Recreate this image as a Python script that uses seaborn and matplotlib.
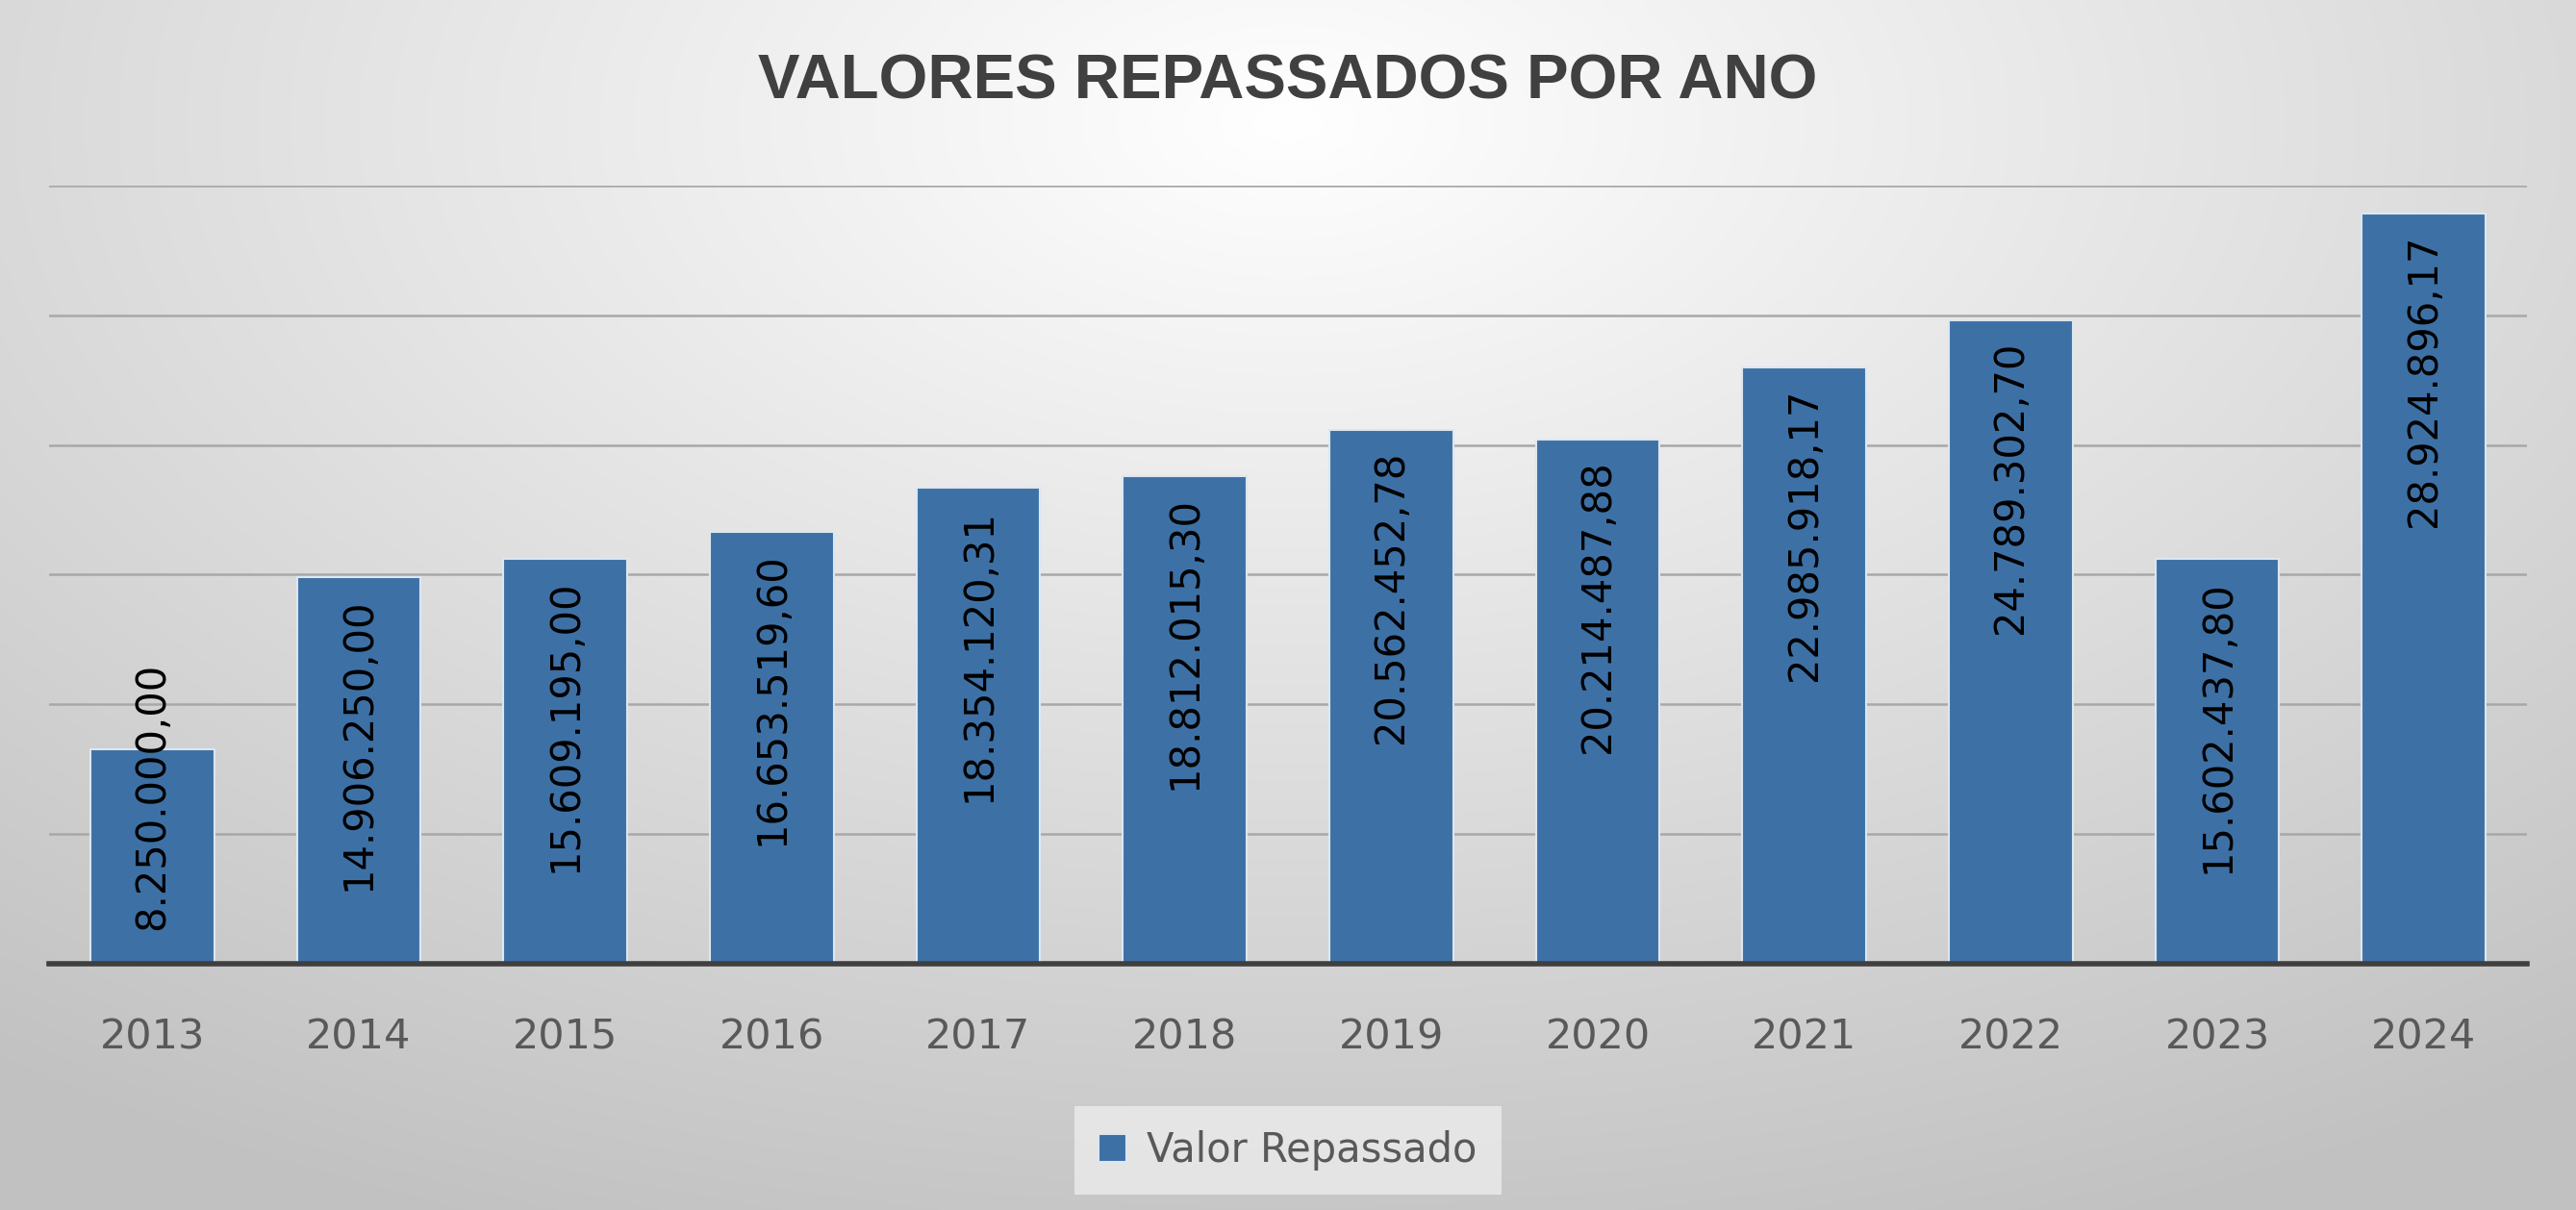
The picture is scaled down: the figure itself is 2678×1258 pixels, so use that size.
import numpy as np
import pandas as pd
import matplotlib
matplotlib.use("Agg")
import matplotlib.pyplot as plt
import seaborn as sns

years = ["2013","2014","2015","2016","2017","2018","2019","2020","2021","2022","2023","2024"]
values = [8250000.00, 14906250.00, 15609195.00, 16653519.60, 18354120.31, 18812015.30,
          20562452.78, 20214487.88, 22985918.17, 24789302.70, 15602437.80, 28924896.17]
labels = ["8.250.000,00","14.906.250,00","15.609.195,00","16.653.519,60","18.354.120,31",
          "18.812.015,30","20.562.452,78","20.214.487,88","22.985.918,17","24.789.302,70",
          "15.602.437,80","28.924.896,17"]
series_name = "Valor Repassado"
title = "VALORES REPASSADOS POR ANO"

sns.set_theme(style="white")
plt.rcParams['font.family'] = ['DejaVu Sans']

fig = plt.figure(figsize=(26.78, 12.58), dpi=100)
bg = fig.add_axes([0, 0, 1, 1], zorder=-10)
yy, xx = np.mgrid[0:1:400j, 0:1:800j]
r = np.sqrt(((xx - 0.5) / 0.75) ** 2 + ((yy - 0.1) / 0.9) ** 2)
g = 1.0 - 0.22 * np.clip(r, 0, 1.1)
bg.imshow(np.dstack([g, g, g]), aspect="auto", extent=[0, 1, 1, 0])
bg.axis("off")

ax = fig.add_axes([0.019, 0.2035, 0.962, 0.6432])
ax.patch.set_alpha(0)
df = pd.DataFrame({"Ano": years, "Valor": values, "Serie": series_name})
sns.barplot(data=df, x="Ano", y="Valor", hue="Serie", palette=["#3d71a6"], width=0.6,
            edgecolor="#dde6f0", linewidth=1.5, ax=ax, saturation=1, zorder=3)
ax.set_ylim(0, 30000000)
ax.set_yticks(np.arange(0, 30000001, 5000000))
ax.yaxis.grid(True, color="#a8a8a8", linewidth=1.8)
ax.set_axisbelow(True)
ax.tick_params(axis="y", left=False, labelleft=False)
ax.tick_params(axis="x", labelsize=31, colors="#595959", pad=40, length=0)
for s in ["top", "right", "left"]:
    ax.spines[s].set_visible(False)
ax.spines["bottom"].set_color("#3f3f3f")
ax.spines["bottom"].set_linewidth(4)
ax.spines["bottom"].set_zorder(5)
ax.set_xlabel(""); ax.set_ylabel("")

for i, (v, lab) in enumerate(zip(values, labels)):
    if v < 12500000:
        ax.text(i, 1300000, lab, rotation=90, ha="center", va="bottom", fontsize=30, color="black", zorder=6)
    else:
        ax.text(i, v - 800000, lab, rotation=90, ha="center", va="top", fontsize=30, color="black", zorder=6)

fig.text(0.5, 0.932, title, ha="center", va="center", fontsize=47, fontweight="bold",
         color="#404040", family=["Liberation Sans Narrow", "Liberation Sans", "DejaVu Sans"])

leg = ax.legend(loc="center", bbox_to_anchor=(0.5, -0.24), frameon=True, fontsize=30,
                handlelength=0.7, handleheight=0.7, handletextpad=0.5, borderpad=0.6,
                fancybox=False)
leg.get_frame().set_facecolor("#ececec")
leg.get_frame().set_edgecolor("none")
for t in leg.get_texts():
    t.set_color("#595959")

fig.savefig("out.png", dpi=100)
